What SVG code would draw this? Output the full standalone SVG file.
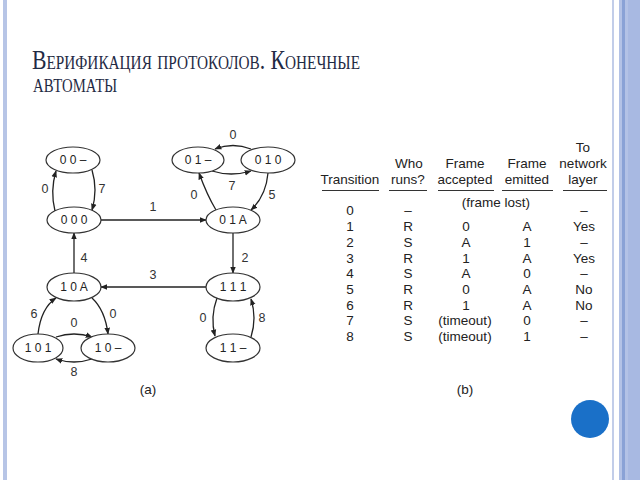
<svg xmlns="http://www.w3.org/2000/svg" width="640" height="480" viewBox="0 0 640 480">
<defs>
<marker id="ah" viewBox="0 0 10 10" refX="9" refY="5" markerWidth="7" markerHeight="7" markerUnits="userSpaceOnUse" orient="auto">
<path d="M0,1 L10,5 L0,9 z" fill="#222"/>
</marker>
<style>
.title{font-family:"Liberation Serif",serif;font-variant:small-caps;fill:#1f2a44}
.nd{fill:#fff;stroke:#333;stroke-width:1.2}
.nt{font-family:"Liberation Sans",Arial,sans-serif;font-size:12px;fill:#222;text-anchor:middle}
.ed{fill:none;stroke:#222;stroke-width:1.3;marker-end:url(#ah)}
.el{font-family:"Liberation Sans",Arial,sans-serif;font-size:12.5px;fill:#333;text-anchor:middle}
.tb{font-family:"Liberation Sans",Arial,sans-serif;font-size:13.5px;fill:#222;text-anchor:middle}
.ul{stroke:#333;stroke-width:1.2}
</style>
</defs>
<rect width="640" height="480" fill="#fff"/>
<rect x="3" y="0" width="4" height="480" fill="#b7c5e6"/>
<rect x="612" y="0" width="2" height="480" fill="#c2cde9"/>
<rect x="619" y="0" width="21" height="480" fill="#b3c2e6"/>
<rect x="622" y="0" width="3" height="480" fill="#8aa2d6"/>
<rect x="628" y="0" width="12" height="480" fill="#a8b9e2"/>

<text class="title" font-size="27"><tspan x="32" y="69" textLength="328" lengthAdjust="spacingAndGlyphs">Верификация протоколов. Конечные</tspan><tspan x="33" y="92" textLength="84" lengthAdjust="spacingAndGlyphs">автоматы</tspan></text>

<g id="connectors">
<path class="ed" d="M55,211 Q50,191 56,171"/>
<path class="ed" d="M92,170 Q98,190 92,210"/>
<path class="ed" d="M101,220 L206,220"/>
<path class="ed" d="M216,210 Q207,195 199,173"/>
<path class="ed" d="M212,171 Q231,177 251,171"/>
<path class="ed" d="M251,149 Q233,142 215,149"/>
<path class="ed" d="M268,173 Q266,196 251,210"/>
<path class="ed" d="M233,233 L233,273"/>
<path class="ed" d="M206,287 L101,287"/>
<path class="ed" d="M74,273 L74,233"/>
<path class="ed" d="M217,298 Q210,317 215,336"/>
<path class="ed" d="M251,337 Q257,318 251,299"/>
<path class="ed" d="M38,334 Q41,308 56,298"/>
<path class="ed" d="M92,298 Q105,310 108,334"/>
<path class="ed" d="M56,337 Q74,331 92,337"/>
<path class="ed" d="M92,359 Q74,365 56,359"/>
<text class="el" x="45" y="193">0</text>
<text class="el" x="102" y="193">7</text>
<text class="el" x="153" y="211">1</text>
<text class="el" x="194" y="199">0</text>
<text class="el" x="232" y="190">7</text>
<text class="el" x="233" y="139">0</text>
<text class="el" x="272" y="199">5</text>
<text class="el" x="245" y="262">2</text>
<text class="el" x="153" y="279">3</text>
<text class="el" x="84" y="262">4</text>
<text class="el" x="203" y="322">0</text>
<text class="el" x="262" y="322">8</text>
<text class="el" x="34" y="318">6</text>
<text class="el" x="113" y="318">0</text>
<text class="el" x="74" y="327">0</text>
<text class="el" x="74" y="376">8</text>
</g>

<g id="n00d"><ellipse class="nd" cx="73" cy="160" rx="27" ry="13"/><text class="nt" x="73" y="164">0 0 –</text></g>
<g id="n000"><ellipse class="nd" cx="74" cy="220" rx="27" ry="13" stroke-width="2.6" stroke="#111"/><text class="nt" x="74" y="224">0 0 0</text></g>
<g id="n01d"><ellipse class="nd" cx="198" cy="160" rx="26" ry="13"/><text class="nt" x="198" y="164">0 1 –</text></g>
<g id="n010"><ellipse class="nd" cx="268" cy="160" rx="27" ry="13"/><text class="nt" x="268" y="164">0 1 0</text></g>
<g id="n01A"><ellipse class="nd" cx="233" cy="220" rx="27" ry="13"/><text class="nt" x="233" y="224">0 1 A</text></g>
<g id="n111"><ellipse class="nd" cx="233" cy="287" rx="27" ry="14"/><text class="nt" x="233" y="291">1 1 1</text></g>
<g id="n11d"><ellipse class="nd" cx="233" cy="348" rx="27" ry="14"/><text class="nt" x="233" y="352">1 1 –</text></g>
<g id="n10A"><ellipse class="nd" cx="74" cy="287" rx="27" ry="14"/><text class="nt" x="74" y="291">1 0 A</text></g>
<g id="n101"><ellipse class="nd" cx="38" cy="348" rx="25" ry="14"/><text class="nt" x="38" y="352">1 0 1</text></g>
<g id="n10d"><ellipse class="nd" cx="108" cy="348" rx="27" ry="14"/><text class="nt" x="108" y="352">1 0 –</text></g>

<text class="tb" x="148" y="394">(a)</text>

<g id="table">
<text class="tb" x="583" y="152">To</text>
<text class="tb" x="409" y="168">Who</text>
<text class="tb" x="465" y="168">Frame</text>
<text class="tb" x="527" y="168">Frame</text>
<text class="tb" x="583" y="168">network</text>
<text class="tb" x="350" y="184">Transition</text>
<text class="tb" x="408" y="184">runs?</text>
<text class="tb" x="465" y="184">accepted</text>
<text class="tb" x="527" y="184">emitted</text>
<text class="tb" x="583" y="184">layer</text>
<line class="ul" x1="322" y1="190.5" x2="379" y2="190.5"/>
<line class="ul" x1="389" y1="190.5" x2="427" y2="190.5"/>
<line class="ul" x1="438" y1="190.5" x2="494" y2="190.5"/>
<line class="ul" x1="502" y1="190.5" x2="553" y2="190.5"/>
<line class="ul" x1="563" y1="190.5" x2="607" y2="190.5"/>

<text class="tb" x="350" y="215">0</text><text class="tb" x="408" y="215">–</text><text class="tb" x="496" y="207">(frame lost)</text><text class="tb" x="584" y="215">–</text>
<text class="tb" x="350" y="231">1</text><text class="tb" x="408" y="231">R</text><text class="tb" x="466" y="231">0</text><text class="tb" x="527" y="231">A</text><text class="tb" x="584" y="231">Yes</text>
<text class="tb" x="350" y="247">2</text><text class="tb" x="408" y="247">S</text><text class="tb" x="466" y="247">A</text><text class="tb" x="527" y="247">1</text><text class="tb" x="584" y="247">–</text>
<text class="tb" x="350" y="263">3</text><text class="tb" x="408" y="263">R</text><text class="tb" x="466" y="263">1</text><text class="tb" x="527" y="263">A</text><text class="tb" x="584" y="263">Yes</text>
<text class="tb" x="350" y="278">4</text><text class="tb" x="408" y="278">S</text><text class="tb" x="466" y="278">A</text><text class="tb" x="527" y="278">0</text><text class="tb" x="584" y="278">–</text>
<text class="tb" x="350" y="294">5</text><text class="tb" x="408" y="294">R</text><text class="tb" x="466" y="294">0</text><text class="tb" x="527" y="294">A</text><text class="tb" x="584" y="294">No</text>
<text class="tb" x="350" y="310">6</text><text class="tb" x="408" y="310">R</text><text class="tb" x="466" y="310">1</text><text class="tb" x="527" y="310">A</text><text class="tb" x="584" y="310">No</text>
<text class="tb" x="350" y="325">7</text><text class="tb" x="408" y="325">S</text><text class="tb" x="465" y="325">(timeout)</text><text class="tb" x="527" y="325">0</text><text class="tb" x="584" y="325">–</text>
<text class="tb" x="350" y="341">8</text><text class="tb" x="408" y="341">S</text><text class="tb" x="465" y="341">(timeout)</text><text class="tb" x="527" y="341">1</text><text class="tb" x="584" y="341">–</text>
<text class="tb" x="465" y="394">(b)</text>
</g>

<circle cx="590" cy="419" r="19" fill="#1a70c8"/>
</svg>
